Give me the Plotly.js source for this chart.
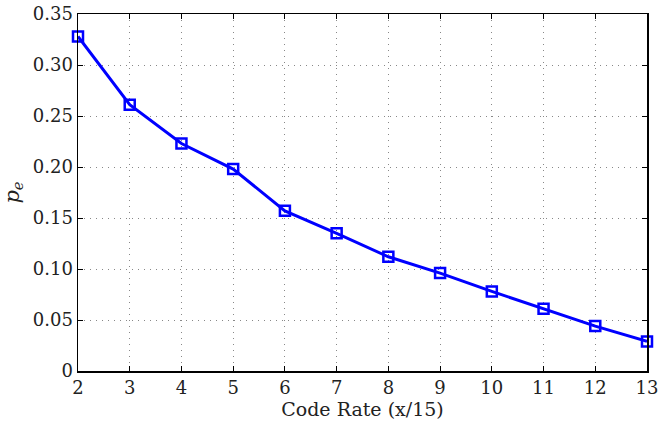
<!DOCTYPE html>
<html>
<head>
<meta charset="utf-8">
<script src="https://cdn.plot.ly/plotly-3.0.1.min.js"></script>
<style>html,body{margin:0;padding:0;background:#fff;}</style>
</head>
<body>
<div id="chart" style="width:659px;height:422px;"></div>
<script>
const codeRate = [2, 3, 4, 5, 6, 7, 8, 9, 10, 11, 12, 13];
const pe = [0.328, 0.261, 0.223, 0.198, 0.157, 0.135, 0.112, 0.096, 0.078, 0.061, 0.044, 0.029];
const yTickVals = [0, 0.05, 0.10, 0.15, 0.20, 0.25, 0.30, 0.35];
const yTickText = ['0', '0.05', '0.10', '0.15', '0.20', '0.25', '0.30', '0.35'];

const font = {family: 'DejaVu Serif, Liberation Serif, serif', size: 18, color: '#222'};
const titleFont = {family: 'DejaVu Serif, Liberation Serif, serif', size: 19, color: '#222'};

const trace = {
  x: codeRate, y: pe, type: 'scatter', mode: 'lines+markers',
  line: {color: '#0000ff', width: 3},
  marker: {symbol: 'square-open', size: 10, color: '#0000ff', line: {width: 2.5, color: '#0000ff'}},
  cliponaxis: false,
  showlegend: false
};

const axisCommon = {
  showline: true, linecolor: '#000', linewidth: 1.5, mirror: 'ticks',
  ticks: 'inside', ticklen: 5, tickcolor: '#000',
  showgrid: true, gridcolor: '#888', griddash: '1px,5px', gridwidth: 1,
  zeroline: false, tickfont: font
};

const layout = {
  width: 659, height: 422,
  margin: {l: 78, r: 12, t: 14, b: 51},
  paper_bgcolor: '#fff', plot_bgcolor: '#fff',
  font: font,
  xaxis: Object.assign({}, axisCommon, {
    range: [2, 13], tickvals: codeRate, ticktext: codeRate.map(String),
    title: {text: 'Code Rate (x/15)', font: titleFont, standoff: 0}
  }),
  yaxis: Object.assign({}, axisCommon, {
    range: [0, 0.35], tickvals: yTickVals, ticktext: yTickText,
    title: {text: '<i>p</i><sub><i>e</i></sub>', font: Object.assign({}, titleFont, {size: 21}), standoff: 10}
  })
};

Plotly.newPlot('chart', [trace], layout, {displayModeBar: false, staticPlot: true});
</script>
</body>
</html>
